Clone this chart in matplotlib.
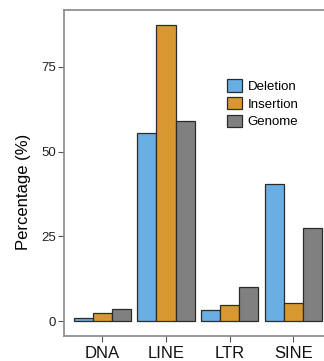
import matplotlib
matplotlib.use("Agg")
import matplotlib.pyplot as plt
import numpy as np

plt.rcParams['font.family'] = ['Liberation Sans', 'DejaVu Sans']

categories = ["DNA", "LINE", "LTR", "SINE"]
deletion = [1.0, 55.5, 3.2, 40.5]
insertion = [2.3, 87.4, 4.9, 5.5]
genome = [3.6, 59.0, 10.1, 27.5]
series = ["Deletion", "Insertion", "Genome"]
colors = ["#68AEE2", "#D9982F", "#808080"]

fig = plt.figure(figsize=(3.24, 3.61), dpi=100)
# axes extends a bit past the right edge, like the cropped original
ax = fig.add_axes([64 / 324, 25 / 361, 267.6 / 324, 326 / 361])

x = np.arange(len(categories))
w = 0.3
handles = []
for i, (vals, c, name) in enumerate(zip([deletion, insertion, genome], colors, series)):
    b = ax.bar(x + (i - 1) * w, vals, width=w, color=c, edgecolor="#2b2b2b",
               linewidth=0.9, label=name)
    handles.append(b)

ax.set_xlim(-0.6, 3.6)
ax.set_ylim(-4.37, 91.8)
ax.set_yticks([0, 25, 50, 75])
ax.set_xticks(x)
ax.set_xticklabels(categories, fontsize=12, color="#111111")
ax.tick_params(axis="y", labelsize=9.5, colors="#555555", labelcolor="#222222",
               length=4, width=0.8, pad=2)
ax.tick_params(axis="x", colors="#555555", labelcolor="#111111",
               length=4, width=0.8, pad=3)
ax.set_ylabel("Percentage (%)", fontsize=12)
ax.yaxis.set_label_coords(-0.125, 0.443)

for s in ax.spines.values():
    s.set_color("#888888")
    s.set_linewidth(1.2)
ax.spines["right"].set_visible(False)

fig.legend(handles=handles, labels=series, loc="upper left",
           bbox_to_anchor=(227 / 324, 1 - 79 / 361), frameon=False,
           fontsize=9.5, handlelength=1.1, handleheight=1.1,
           handletextpad=0.45, labelspacing=0.3, borderpad=0,
           borderaxespad=0)

fig.savefig("out.png", dpi=100)
